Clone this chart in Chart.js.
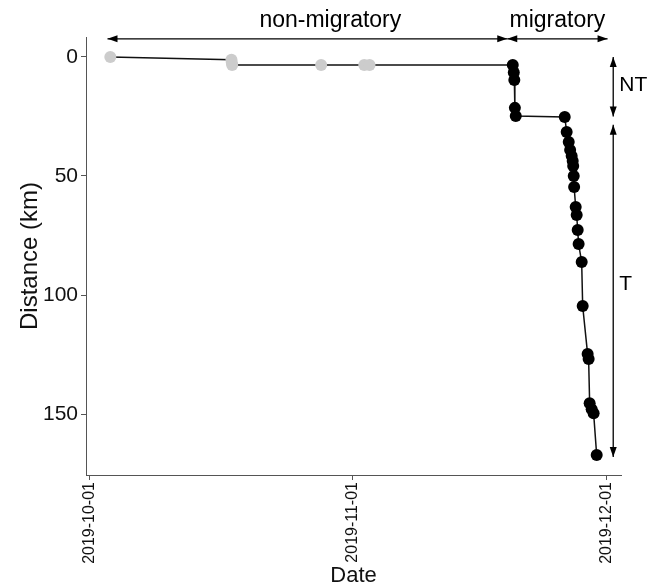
<!DOCTYPE html>
<html lang="en">
<head>
<meta charset="UTF-8">
<title>Distance over time</title>
<script src="https://cdn.jsdelivr.net/npm/chart.js@4.4.1/dist/chart.umd.min.js"></script>
<style>
  body { margin: 0; background: #fff; }
  #wrap { width: 647px; height: 587px; }
</style>
</head>
<body>
<div id="wrap"><canvas id="distChart" width="647" height="587"></canvas></div>
<script>
// GPS fixes (UTC) and distance from the first fix
const fixTimes = [
  '2019-10-03T11:00Z', '2019-10-17T18:00Z', '2019-10-17T19:00Z', '2019-10-17T20:00Z',
  '2019-10-28T08:00Z', '2019-11-02T10:00Z', '2019-11-03T01:00Z',
  '2019-11-19T22:30Z', '2019-11-20T01:30Z', '2019-11-20T03:00Z', '2019-11-20T04:30Z',
  '2019-11-20T07:00Z', '2019-11-26T01:40Z', '2019-11-26T07:10Z', '2019-11-26T13:00Z',
  '2019-11-26T17:00Z', '2019-11-26T21:20Z', '2019-11-27T00:15Z', '2019-11-27T01:40Z',
  '2019-11-27T03:10Z', '2019-11-27T04:20Z', '2019-11-27T08:40Z', '2019-11-27T11:30Z',
  '2019-11-27T14:25Z', '2019-11-27T17:00Z', '2019-11-28T01:40Z', '2019-11-28T04:30Z',
  '2019-11-28T18:30Z', '2019-11-28T21:20Z', '2019-11-29T00:15Z', '2019-11-29T06:00Z',
  '2019-11-29T11:30Z', '2019-11-29T20:10Z'
];
const distanceKm = [
  0, 1.2, 2.4, 3.4,
  3.4, 3.4, 3.4,
  3.4, 6.5, 9.7, 21.4,
  24.8, 25.2, 31.5, 35.7,
  39.1, 41.6, 43.7, 45.8,
  50.0, 54.6, 63.0, 66.4,
  72.7, 78.6, 86.1, 104.6,
  124.8, 126.9, 145.4, 147.9,
  149.6, 167.2
];
const phase = [
  'non', 'non', 'non', 'non', 'non', 'non', 'non',
  'mig', 'mig', 'mig', 'mig', 'mig', 'mig', 'mig', 'mig', 'mig', 'mig', 'mig', 'mig',
  'mig', 'mig', 'mig', 'mig', 'mig', 'mig', 'mig', 'mig', 'mig', 'mig', 'mig', 'mig',
  'mig', 'mig'
];
const monthTicks = ['2019-10-01', '2019-11-01', '2019-12-01'];
const distTicks = [0, 50, 100, 150];

// annotation arrows
const spanLabels = ['non-migratory', 'migratory'];
const spanFrom = ['2019-10-03T03:00Z', '2019-11-19T07:00Z'];
const spanTo = ['2019-11-19T07:00Z', '2019-12-01T03:00Z'];
const spanTextAt = ['2019-10-29T10:00Z', '2019-11-25T05:00Z'];
const spanKm = -7.6;

const segLabels = ['NT', 'T'];
const segFrom = [0, 28.5];
const segTo = [25, 168];
const segTextKm = [12, 95.5];
const segAt = '2019-12-01T19:00Z';

const pts = fixTimes.map((t, i) => ({ x: Date.parse(t), y: distanceKm[i] }));
const xs = pts.map(p => p.x), ys = pts.map(p => p.y);
const xLo = Math.min(...xs), xHi = Math.max(...xs);
const yLo = Math.min(...ys), yHi = Math.max(...ys);
const xPad = (xHi - xLo) * 0.05, yPad = (yHi - yLo) * 0.05;

const FONT = "'Liberation Sans', Arial, sans-serif";
Chart.defaults.font.family = FONT;
Chart.defaults.color = '#111';

function fmtDate(v) {
  const d = new Date(v);
  const m = String(d.getUTCMonth() + 1).padStart(2, '0');
  const dd = String(d.getUTCDate()).padStart(2, '0');
  return d.getUTCFullYear() + '-' + m + '-' + dd;
}

function arrowHead(ctx, x, y, ang) {
  const len = 10, half = 3.5;
  ctx.beginPath();
  ctx.moveTo(x, y);
  ctx.lineTo(x - len * Math.cos(ang) + half * Math.sin(ang), y - len * Math.sin(ang) - half * Math.cos(ang));
  ctx.lineTo(x - len * Math.cos(ang) - half * Math.sin(ang), y - len * Math.sin(ang) + half * Math.cos(ang));
  ctx.closePath();
  ctx.fill();
}

function doubleArrow(ctx, x1, y1, x2, y2) {
  const ang = Math.atan2(y2 - y1, x2 - x1);
  ctx.beginPath();
  ctx.moveTo(x1, y1);
  ctx.lineTo(x2, y2);
  ctx.stroke();
  arrowHead(ctx, x2, y2, ang);
  arrowHead(ctx, x1, y1, ang + Math.PI);
}

const phaseArrows = {
  id: 'phaseArrows',
  afterDraw(chart) {
    const { ctx, scales: { x, y } } = chart;
    ctx.save();
    ctx.strokeStyle = '#000';
    ctx.fillStyle = '#000';
    ctx.lineWidth = 1.3;
    ctx.font = '23px ' + FONT;
    const yy = y.getPixelForValue(spanKm);
    spanLabels.forEach((lab, i) => {
      doubleArrow(ctx, x.getPixelForValue(Date.parse(spanFrom[i])), yy,
        x.getPixelForValue(Date.parse(spanTo[i])), yy);
      ctx.textAlign = 'center';
      ctx.textBaseline = 'middle';
      ctx.fillText(lab, x.getPixelForValue(Date.parse(spanTextAt[i])), yy - 18);
    });
    ctx.font = '21px ' + FONT;
    const xx = x.getPixelForValue(Date.parse(segAt));
    segLabels.forEach((lab, i) => {
      const a = y.getPixelForValue(segFrom[i]), b = y.getPixelForValue(segTo[i]);
      doubleArrow(ctx, xx, a, xx, b);
      ctx.textAlign = 'left';
      ctx.textBaseline = 'middle';
      ctx.fillText(lab, xx + 6, y.getPixelForValue(segTextKm[i]));
    });
    ctx.restore();
  }
};

new Chart(document.getElementById('distChart'), {
  type: 'line',
  data: {
    datasets: [{
      data: pts,
      borderColor: '#111',
      borderWidth: 1.5,
      tension: 0,
      pointRadius: 6,
      pointBorderWidth: 0,
      pointBackgroundColor: phase.map(p => p === 'mig' ? '#000' : '#cccccc'),
      pointBorderColor: phase.map(p => p === 'mig' ? '#000' : '#cccccc')
    }]
  },
  options: {
    responsive: false,
    devicePixelRatio: 1,
    animation: false,
    events: [],
    layout: { padding: { top: 37, right: 26, left: 0, bottom: 0 } },
    plugins: { legend: { display: false }, tooltip: { enabled: false } },
    scales: {
      x: {
        type: 'linear',
        min: xLo - xPad,
        max: xHi + xPad,
        afterBuildTicks: s => { s.ticks = monthTicks.map(d => ({ value: Date.parse(d + 'T00:00Z') })); },
        afterFit: s => { s.height = 112; },
        grid: { drawOnChartArea: false, tickLength: 5, color: '#555' },
        border: { color: '#555', width: 1 },
        ticks: {
          autoSkip: false,
          minRotation: 90,
          maxRotation: 90,
          padding: 2,
          font: { size: 16, lineHeight: 1.0 },
          callback: v => fmtDate(v)
        },
        title: { display: true, text: 'Date', font: { size: 22, lineHeight: 1.0 }, padding: { top: 0, bottom: 0 } }
      },
      y: {
        type: 'linear',
        reverse: true,
        min: yLo - yPad,
        max: yHi + yPad,
        afterBuildTicks: s => { s.ticks = distTicks.map(v => ({ value: v })); },
        afterFit: s => { s.width = 86; },
        grid: { drawOnChartArea: false, tickLength: 5, color: '#555' },
        border: { color: '#555', width: 1 },
        ticks: { padding: 3, font: { size: 21 } },
        title: { display: true, text: 'Distance (km)', font: { size: 24 }, padding: { top: 16, bottom: 0 } }
      }
    }
  },
  plugins: [phaseArrows]
});
</script>
</body>
</html>
